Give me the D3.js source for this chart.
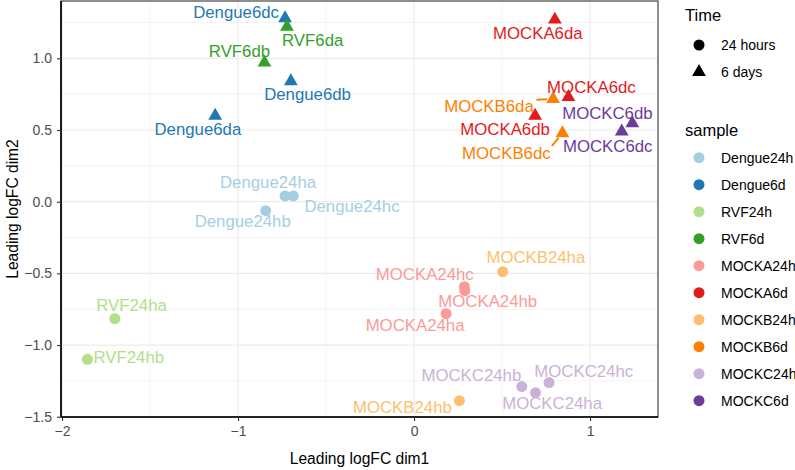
<!DOCTYPE html>
<html>
<head>
<meta charset="utf-8">
<script src="https://cdn.jsdelivr.net/npm/d3@7"></script>
<style>
  html, body { margin: 0; padding: 0; background: #fff; }
  svg { display: block; font-family: "Liberation Sans", Arial, Helvetica, sans-serif; }
</style>
</head>
<body>
<svg id="chart" width="795" height="470"></svg>
<script>
// ---------------- data ----------------
const sampleNames = ["Dengue24ha","Dengue24hb","Dengue24hc","Dengue6da","Dengue6db","Dengue6dc",
  "RVF24ha","RVF24hb","RVF6da","RVF6db",
  "MOCKA24ha","MOCKA24hb","MOCKA24hc","MOCKA6da","MOCKA6db","MOCKA6dc",
  "MOCKB24ha","MOCKB24hb","MOCKB6da","MOCKB6dc",
  "MOCKC24ha","MOCKC24hb","MOCKC24hc","MOCKC6db","MOCKC6dc"];
const sampleGroup = ["Dengue24h","Dengue24h","Dengue24h","Dengue6d","Dengue6d","Dengue6d",
  "RVF24h","RVF24h","RVF6d","RVF6d",
  "MOCKA24h","MOCKA24h","MOCKA24h","MOCKA6d","MOCKA6d","MOCKA6d",
  "MOCKB24h","MOCKB24h","MOCKB6d","MOCKB6d",
  "MOCKC24h","MOCKC24h","MOCKC24h","MOCKC6d","MOCKC6d"];
const sampleTime = ["24 hours","24 hours","24 hours","6 days","6 days","6 days",
  "24 hours","24 hours","6 days","6 days",
  "24 hours","24 hours","24 hours","6 days","6 days","6 days",
  "24 hours","24 hours","6 days","6 days",
  "24 hours","24 hours","24 hours","6 days","6 days"];
const dim1 = [-0.733,-0.843,-0.686,-1.13,-0.70,-0.733,
  -1.70,-1.856,-0.722,-0.85,
  0.182,0.288,0.286,0.80,0.6875,0.877,
  0.504,0.2575,0.79,0.843,
  0.69,0.612,0.767,1.24,1.18];
const dim2 = [0.04,-0.063,0.04,0.60,0.84,1.28,
  -0.816,-1.10,1.22,0.97,
  -0.781,-0.62,-0.593,1.27,0.60,0.73,
  -0.488,-1.388,0.716,0.477,
  -1.332,-1.29,-1.262,0.547,0.49];

const groupLevels = ["Dengue24h","Dengue6d","RVF24h","RVF6d","MOCKA24h","MOCKA6d","MOCKB24h","MOCKB6d","MOCKC24h","MOCKC6d"];
const groupColors = ["#A6CEE3","#1F78B4","#B2DF8A","#33A02C","#FB9A99","#E31A1C","#FDBF6F","#FF7F00","#CAB2D6","#6A3D9A"];
const timeLevels = ["24 hours","6 days"];
const xTicks = [-2,-1,0,1];
const yTicks = [-1.5,-1.0,-0.5,0.0,0.5,1.0];
const xTitle = "Leading logFC dim1";
const yTitle = "Leading logFC dim2";

// label placement (repelled text offsets, px from point)
const labelDx = [-17,-23,58.7,-17.3,16.7,-49,
  16.7,41.4,25.7,-25,
  -31,23,-39.6,-17,-30,23,
  33.1,-57,-64.1,-56.1,
  16.6,-50.4,34.7,-24.9,-14];
const labelDy = [-7.7,16.6,15.7,19,18.3,0,
  -7.7,4,19,-5.4,
  17,16.6,-6.7,19,19,-4,
  -8.4,12,12.7,26,
  16.6,-6,-6,-4.3,20.7];
const labelSegment = ["MOCKB6da","MOCKB6dc"];

// ---------------- layout ----------------
const svg = d3.select("#chart");
const panel = {left: 61, right: 658, top: 1, bottom: 417};
const x = d3.scaleLinear().domain([-2.006, 1.386]).range([panel.left, panel.right]);
const y = d3.scaleLinear().domain([-1.502, 1.40]).range([panel.bottom, panel.top]);
const color = d3.scaleOrdinal().domain(groupLevels).range(groupColors);
const shape = d3.scaleOrdinal().domain(timeLevels).range([d3.symbolCircle, d3.symbolTriangle]);
const shapeSize = d3.scaleOrdinal().domain(timeLevels).range([95, 82]);

// panel background
svg.append("rect").attr("x", panel.left).attr("y", panel.top)
  .attr("width", panel.right - panel.left).attr("height", panel.bottom - panel.top)
  .attr("fill", "#fff");

// grid lines
const gGrid = svg.append("g");
const xMinor = [-1.5,-0.5,0.5];
const yMinor = [-1.25,-0.75,-0.25,0.25,0.75,1.25];
gGrid.selectAll(".xmin").data(xMinor).join("line")
  .attr("x1", d => x(d)).attr("x2", d => x(d)).attr("y1", panel.top).attr("y2", panel.bottom)
  .attr("stroke", "#EBEBEB").attr("stroke-width", 0.6);
gGrid.selectAll(".ymin").data(yMinor).join("line")
  .attr("y1", d => y(d)).attr("y2", d => y(d)).attr("x1", panel.left).attr("x2", panel.right)
  .attr("stroke", "#EBEBEB").attr("stroke-width", 0.6);
gGrid.selectAll(".xmaj").data(xTicks).join("line")
  .attr("x1", d => x(d)).attr("x2", d => x(d)).attr("y1", panel.top).attr("y2", panel.bottom)
  .attr("stroke", "#EBEBEB").attr("stroke-width", 1.2);
gGrid.selectAll(".ymaj").data(yTicks).join("line")
  .attr("y1", d => y(d)).attr("y2", d => y(d)).attr("x1", panel.left).attr("x2", panel.right)
  .attr("stroke", "#EBEBEB").attr("stroke-width", 1.2);

// panel border
svg.append("rect").attr("x", panel.left).attr("y", panel.top)
  .attr("width", panel.right - panel.left).attr("height", panel.bottom - panel.top)
  .attr("fill", "none").attr("stroke", "#333").attr("stroke-width", 1.1);

// axes
const fmtY = d => d3.format(".1f")(d).replace("-", "\u2212");
const fmtX = d => String(d).replace("-", "\u2212");
const xAxis = svg.append("g").attr("transform", `translate(0,${panel.bottom})`)
  .call(d3.axisBottom(x).tickValues(xTicks).tickFormat(fmtX).tickSize(4).tickPadding(5));
const yAxis = svg.append("g").attr("transform", `translate(${panel.left},0)`)
  .call(d3.axisLeft(y).tickValues(yTicks).tickFormat(fmtY).tickSize(4).tickPadding(5));
[xAxis, yAxis].forEach(a => {
  a.select(".domain").attr("stroke", "#000").attr("stroke-width", 1.6);
  a.selectAll(".tick line").attr("stroke", "#333").attr("stroke-width", 1.1);
  a.selectAll(".tick text").attr("fill", "#4D4D4D").attr("font-size", 14)
    .attr("font-family", "Liberation Sans, Arial, sans-serif");
});
xAxis.select(".domain").attr("d", `M${panel.left},0H${panel.right}`);
yAxis.select(".domain").attr("d", `M0,${panel.top}V${panel.bottom}`);

svg.append("text").attr("x", (panel.left + panel.right) / 2).attr("y", 464)
  .attr("text-anchor", "middle").attr("font-size", 15.6).attr("fill", "#000").text(xTitle);
svg.append("text").attr("transform", `translate(18,${(panel.top + panel.bottom) / 2}) rotate(-90)`)
  .attr("text-anchor", "middle").attr("font-size", 15.6).attr("fill", "#000").text(yTitle);

// points
const rows = sampleNames.map((n, i) => ({name: n, group: sampleGroup[i], time: sampleTime[i],
  d1: dim1[i], d2: dim2[i], dx: labelDx[i], dy: labelDy[i]}));

const gPts = svg.append("g");
gPts.selectAll("path").data(rows).join("path")
  .attr("transform", d => `translate(${x(d.d1)},${y(d.d2)})`)
  .attr("d", d => d3.symbol().type(shape(d.time)).size(shapeSize(d.time))())
  .attr("fill", d => color(d.group));

// labels
const gLab = svg.append("g");
const gSeg = gLab.append("g");
const labels = gLab.selectAll("text").data(rows).join("text")
  .attr("x", d => x(d.d1) + d.dx).attr("y", d => y(d.d2) + d.dy)
  .attr("text-anchor", "middle").attr("font-size", 16.8)
  .attr("fill", d => color(d.group)).text(d => d.name);

labels.each(function(d) {
  if (!labelSegment.includes(d.name)) return;
  const b = this.getBBox();
  const px = x(d.d1), py = y(d.d2);
  const cy = b.y + b.height * 0.5;
  const ex = Math.max(b.x, Math.min(px, b.x + b.width));
  const ey = Math.max(b.y + 3, Math.min(py, b.y + b.height - 3));
  const ang = Math.atan2(ey - py, ex - px);
  const pad = 6;
  gSeg.append("line")
    .attr("x1", ex + 2 * Math.cos(ang + Math.PI) ).attr("y1", ey + 2 * Math.sin(ang + Math.PI))
    .attr("x2", px + pad * Math.cos(ang)).attr("y2", py + pad * Math.sin(ang))
    .attr("stroke", color(d.group)).attr("stroke-width", 2);
});

// legends
const lg = svg.append("g");
lg.append("text").attr("x", 685).attr("y", 21).attr("font-size", 16.5).attr("fill", "#000").text("Time");
lg.selectAll(".tkey").data(timeLevels).join("path")
  .attr("transform", (d, i) => `translate(699,${45 + i * 27})`)
  .attr("d", d => d3.symbol().type(shape(d)).size(shapeSize(d))())
  .attr("fill", "#000");
lg.selectAll(".tlab").data(timeLevels).join("text")
  .attr("x", 721).attr("y", (d, i) => 45 + i * 27).attr("dy", "0.35em")
  .attr("font-size", 14).attr("fill", "#000").text(d => d);

lg.append("text").attr("x", 685).attr("y", 136).attr("font-size", 16.5).attr("fill", "#000").text("sample");
lg.selectAll(".skey").data(groupLevels).join("path")
  .attr("transform", (d, i) => `translate(699,${157.7 + i * 27})`)
  .attr("d", d3.symbol().type(d3.symbolCircle).size(95)())
  .attr("fill", d => color(d));
lg.selectAll(".slab").data(groupLevels).join("text")
  .attr("x", 721).attr("y", (d, i) => 157.7 + i * 27).attr("dy", "0.35em")
  .attr("font-size", 14).attr("fill", "#000").text(d => d);
</script>
</body>
</html>
